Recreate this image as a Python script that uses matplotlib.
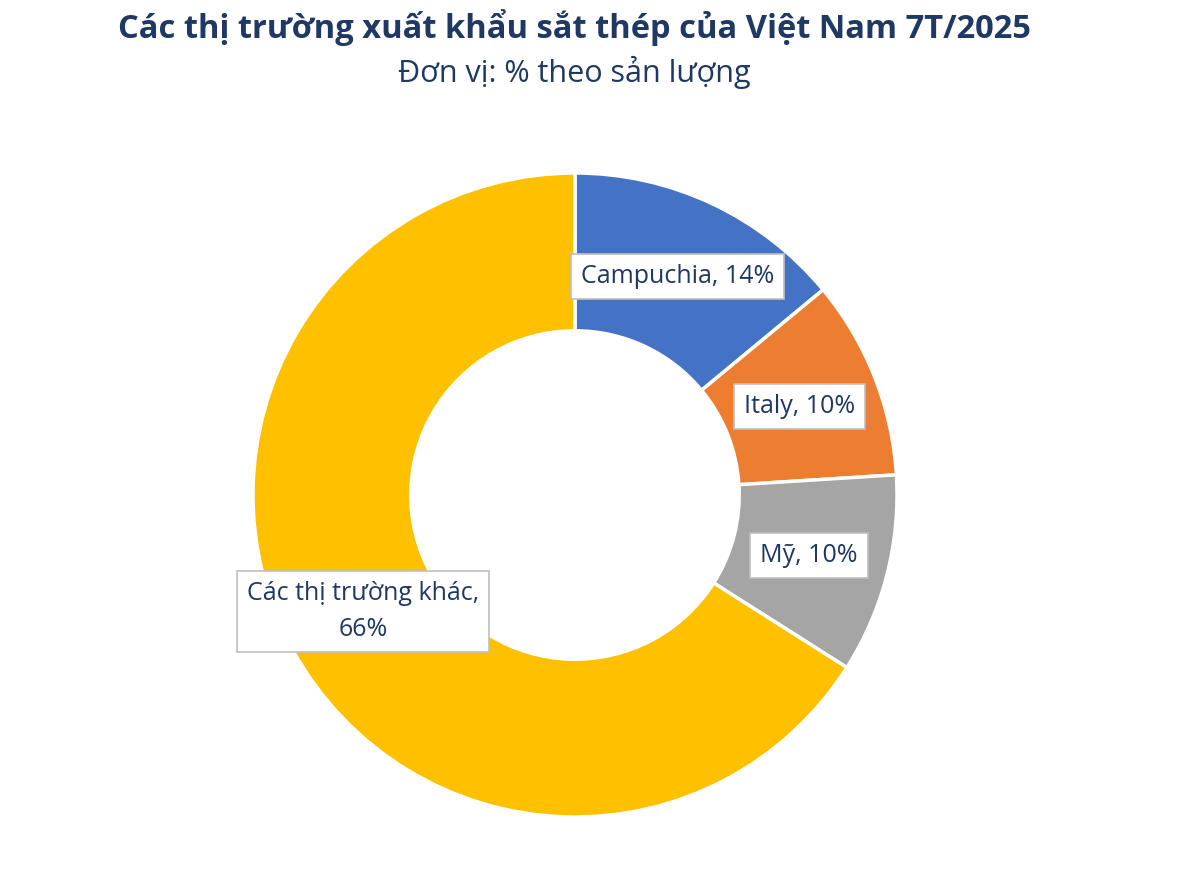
import matplotlib.pyplot as plt
import numpy as np

plt.rcParams['font.family'] = ['Open Sans', 'DejaVu Sans']

markets = ['Campuchia', 'Italy', 'Mỹ', 'Các thị trường khác']
shares = [14, 10, 10, 66]
label_texts = ['Campuchia, 14%', 'Italy, 10%', 'Mỹ, 10%', 'Các thị trường khác,\n66%']
colors = ['#4472C4', '#ED7D31', '#A5A5A5', '#FFC000']

navy = '#1F3864'

fig = plt.figure(figsize=(12, 8.75), dpi=100)
ax = fig.add_axes([253 / 1200, 58 / 875, 644 / 1200, 644 / 875])

wedges, _ = ax.pie(shares, colors=colors, startangle=90, counterclock=False,
                   radius=1.0, wedgeprops=dict(width=0.49, edgecolor='white', linewidth=2.5))
ax.set_xlim(-1, 1)
ax.set_ylim(-1, 1)

for w, txt in zip(wedges, label_texts):
    ang = np.deg2rad((w.theta1 + w.theta2) / 2)
    r = 0.75
    ax.text(r * np.cos(ang), r * np.sin(ang), txt, ha='center', va='center',
            fontsize=18, color=navy, linespacing=1.55,
            bbox=dict(boxstyle='square,pad=0.4', facecolor='white', edgecolor='#BFBFBF', linewidth=1.2))

fig.text(574 / 1200, 1 - 28 / 875, 'Các thị trường xuất khẩu sắt thép của Việt Nam 7T/2025',
         ha='center', va='center', fontsize=23.5, fontweight='bold', color=navy)
fig.text(574 / 1200, 1 - 72 / 875, 'Đơn vị: % theo sản lượng',
         ha='center', va='center', fontsize=22, color=navy)

fig.savefig('out.png', dpi=100)
